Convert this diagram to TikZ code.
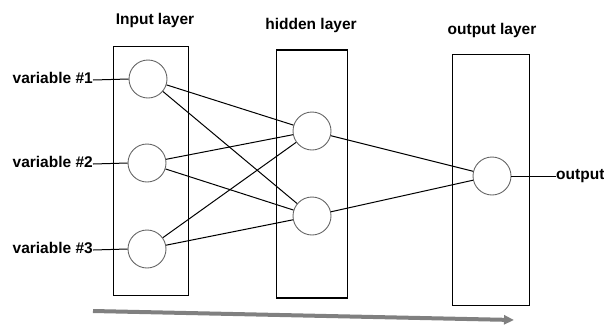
\documentclass[tikz,border=0pt]{standalone}
\usepackage{fontspec}
\setmainfont{Liberation Sans}
\usepackage{xcolor}
\usepackage{tikz}
\usetikzlibrary{positioning,arrows.meta}

\tikzset{
  neuron/.style={draw=gray!80!black, circle, minimum size=38pt, inner sep=0pt, line width=0.9pt},
  layerbox/.style={draw, line width=1.1pt, inner sep=0pt},
  lbl/.style={font=\bfseries\fontsize{15.5}{17}\selectfont, inner sep=0pt},
  link/.style={line width=1pt}
}

\begin{document}
\begin{tikzpicture}[x=1pt, y=-1pt]
\useasboundingbox (0,0) rectangle (604,325);

% layer boxes
\node[layerbox, minimum width=75pt, minimum height=249pt] (inbox) at (151,171) {};
\node[layerbox, minimum width=71pt, minimum height=248pt] (hidbox) at (312,174) {};
\node[layerbox, minimum width=77pt, minimum height=251pt] (outbox) at (491,180) {};

\node[lbl] (t_in) at (155,20) {Input layer};
\node[lbl] (t_hid) at (311,25) {hidden layer};
\node[lbl] (t_out) at (492,30) {output layer};

% neurons
\node[neuron] (in1) at (148,79) {};
\node[neuron] (in2) at (147,163) {};
\node[neuron] (in3) at (147,249) {};
\node[neuron] (hid1) at (312,131) {};
\node[neuron] (hid2) at (312,216) {};
\node[neuron] (out1) at (492,176) {};

% inputs
\node[lbl, anchor=east] (var1) at (93,78) {variable \#1};
\node[lbl, anchor=east] (var2) at (93,162) {variable \#2};
\node[lbl, anchor=east] (var3) at (93,248) {variable \#3};
\node[lbl, anchor=west] (res) at (556,176) {output};

\draw[link] (var1.east) ++(0,2) -- (in1.west);
\draw[link] (var2.east) ++(0,2) -- (in2.west);
\draw[link] (var3.east) ++(0,2) -- (in3.west);
\draw[link] (out1.east) -- (res.west);

% connections
\foreach \i in {1,2,3}
  \foreach \j in {1,2}
    \draw[link] (in\i) -- (hid\j);
\foreach \j in {1,2}
  \draw[link] (hid\j) -- (out1);

% direction arrow
\coordinate (a_start) at (93,311);
\coordinate (a_end) at (514,320);
\draw[gray, line width=4pt, -{Triangle[length=10pt,width=9pt]}] (a_start) -- (a_end);
\end{tikzpicture}
\end{document}
